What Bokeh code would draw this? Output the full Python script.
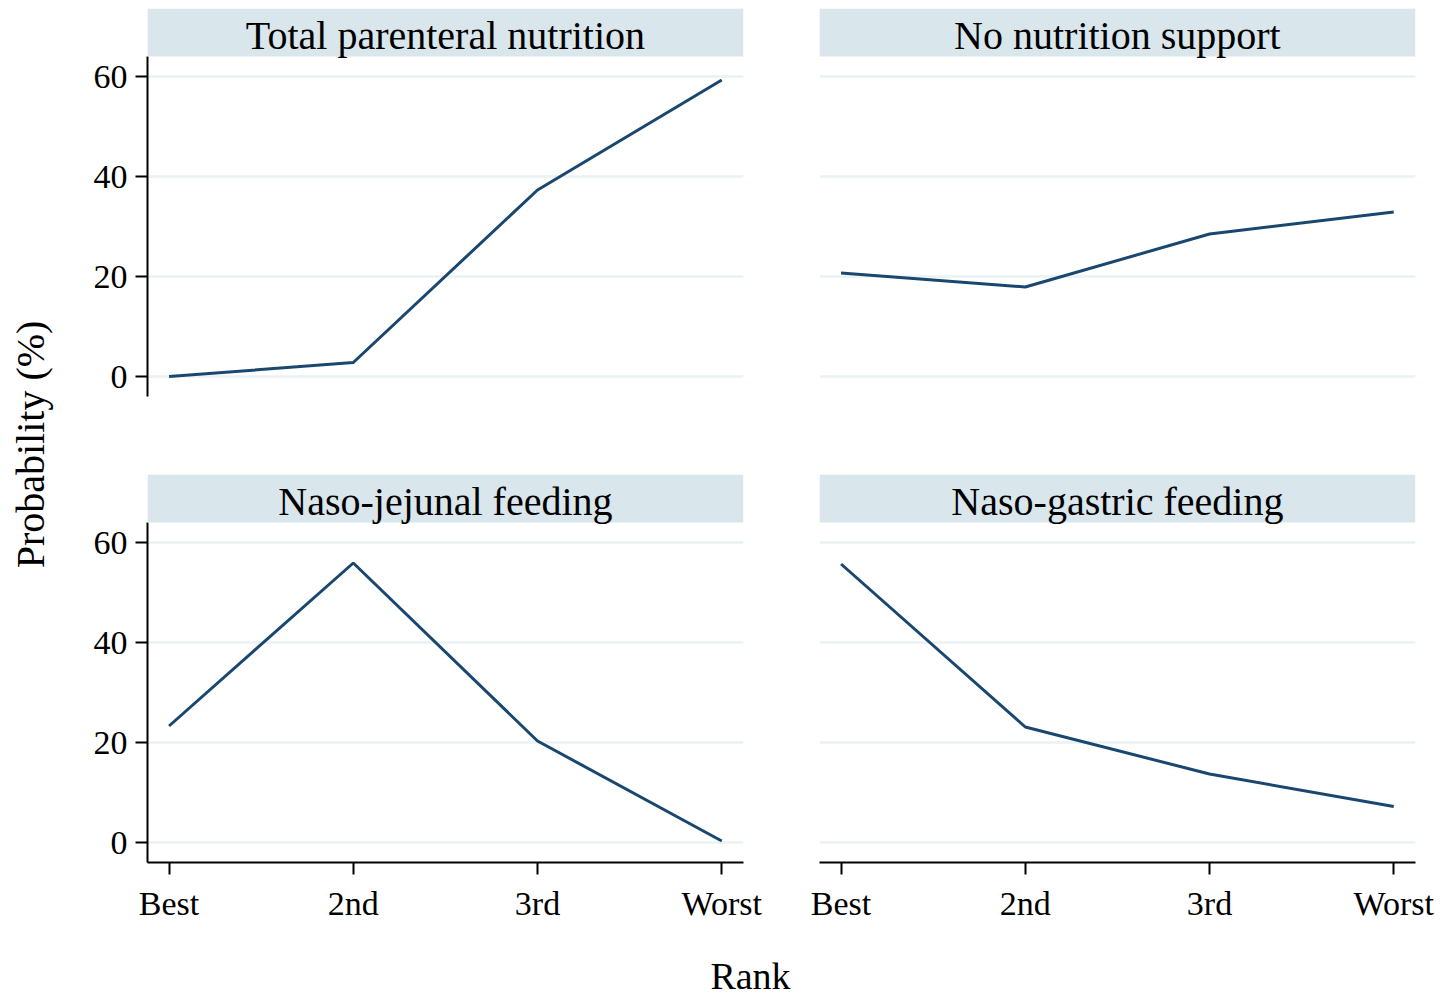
import math
from bokeh.plotting import figure
from bokeh.models import Range1d, FixedTicker, BoxAnnotation, Label, Grid
from bokeh.layouts import row, column
from bokeh.embed import file_html
from bokeh.resources import INLINE

# ---- data ----
ranks = ["Best", "2nd", "3rd", "Worst"]
panel_titles = ["Total parenteral nutrition", "No nutrition support",
                "Naso-jejunal feeding", "Naso-gastric feeding"]
tpn = [0.0, 2.8, 37.3, 59.3]
no_support = [20.7, 17.9, 28.5, 32.9]
naso_jejunal = [23.3, 55.9, 20.3, 0.3]
naso_gastric = [55.7, 23.1, 13.7, 7.2]
y_ticks = [0, 20, 40, 60]
y_label = "Probability (%)"
x_label = "Rank"

FONT = "Liberation Serif"
LINE = "#1a476f"
STRIP = "#d9e6eb"
GRID = "#eaf2f3"

x_pos = [i + 1 for i in range(len(ranks))]
Y_MIN, Y_MAX, Y_TOP = -4, 64, 73.6


def panel(title, values, left_axis, bottom_axis, width, height, mbl, mbr, mbt, mbb):
    p = figure(width=width, height=height,
               x_range=Range1d(0.883, 4.118), y_range=Range1d(Y_MIN, Y_TOP),
               x_axis_location="below" if bottom_axis else None,
               y_axis_location="left" if left_axis else None,
               toolbar_location=None, output_backend="svg",
               min_border_left=mbl, min_border_right=mbr,
               min_border_top=mbt, min_border_bottom=mbb)
    p.outline_line_color = None
    p.background_fill_color = "white"
    p.border_fill_color = "white"
    p.grid.visible = False
    p.add_layout(Grid(dimension=1, ticker=FixedTicker(ticks=y_ticks),
                      grid_line_color=GRID, grid_line_width=2.5))
    for ax in p.yaxis:
        ax.ticker = FixedTicker(ticks=y_ticks)
        ax.bounds = (Y_MIN, Y_MAX)
    for ax in p.xaxis:
        ax.ticker = FixedTicker(ticks=x_pos)
        ax.major_label_overrides = {x: lab for x, lab in zip(x_pos, ranks)}
        ax.major_label_standoff = 10
    for ax in list(p.yaxis) + list(p.xaxis):
        ax.axis_line_width = 2
        ax.axis_line_color = "black"
        ax.major_tick_out = 12
        ax.major_tick_in = 0
        ax.major_tick_line_width = 2
        ax.major_tick_line_color = "black"
        ax.minor_tick_line_color = None
        ax.major_label_text_font = FONT
        ax.major_label_text_font_size = "34px"
        ax.major_label_text_color = "black"
    for ax in p.yaxis:
        ax.major_label_standoff = 8

    p.line(x_pos, values, line_color=LINE, line_width=3)
    p.add_layout(BoxAnnotation(bottom=Y_MAX, fill_color=STRIP, fill_alpha=1.0,
                               line_color=None))
    p.add_layout(Label(x=2.5, y=Y_MAX + 4.2, text=title, text_align="center",
                       text_baseline="middle", text_font=FONT,
                       text_font_size="40px", text_color="black"))
    return p


TOP_H, BOT_H, RANK_H = 436, 504, 57
LEFT_W, RIGHT_W, YLAB_W = 711, 673, 68
TOTAL_H = TOP_H + BOT_H + RANK_H

tl = panel(panel_titles[0], tpn, True, False, LEFT_W, TOP_H, 79, 36, 8, 40)
tr = panel(panel_titles[1], no_support, False, False, RIGHT_W, TOP_H, 40, 37, 8, 40)
bl = panel(panel_titles[2], naso_jejunal, True, True, LEFT_W, BOT_H, 79, 36, 38, 78)
br = panel(panel_titles[3], naso_gastric, False, True, RIGHT_W, BOT_H, 40, 37, 38, 78)


def label_fig(w, h):
    f = figure(width=w, height=h, x_range=Range1d(0, w), y_range=Range1d(0, h),
               x_axis_location=None, y_axis_location=None,
               toolbar_location=None, output_backend="svg", min_border=0)
    f.outline_line_color = None
    f.grid.visible = False
    return f


ylab = label_fig(YLAB_W, TOTAL_H)
ylab.add_layout(Label(x=30, y=TOTAL_H - 444, text=y_label, angle=math.pi / 2,
                      text_align="center", text_baseline="middle", text_font=FONT,
                      text_font_size="40px", text_color="black"))

rank = label_fig(LEFT_W + RIGHT_W, RANK_H)
rank.add_layout(Label(x=750 - YLAB_W, y=RANK_H - 35, text=x_label, text_align="center",
                      text_baseline="middle", text_font=FONT,
                      text_font_size="38px", text_color="black"))

layout = row(ylab, column(row(tl, tr), row(bl, br), rank))

open("out.html", "w").write(file_html(layout, INLINE))
